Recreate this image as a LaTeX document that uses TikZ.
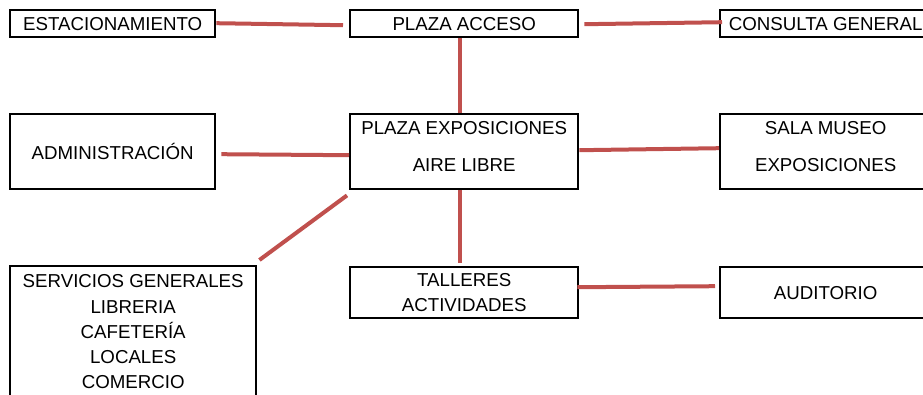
\documentclass[tikz,border=0pt]{standalone}
\usepackage{fontspec}
\setmainfont{Liberation Sans}
\definecolor{linkred}{HTML}{C0504D}
\begin{document}
\begin{tikzpicture}[x=1pt,y=-1pt,
  box/.style={draw=black, line width=2.4pt, rectangle, inner sep=0pt,
    anchor=north west, align=center,
    font=\fontsize{18.7pt}{25.3pt}\selectfont},
  link/.style={draw=linkred, line width=4pt}]
\useasboundingbox (0,0) rectangle (923,394);
\node[box, minimum width=205pt, minimum height=27pt] (estac) at (9,9) {ESTACIONAMIENTO};
\node[box, minimum width=228pt, minimum height=27pt] (acceso) at (349,9) {PLAZA ACCESO};
\node[box, minimum width=211pt, minimum height=27pt] (consulta) at (719,9) {CONSULTA GENERAL};
\node[box, minimum width=205pt, minimum height=75pt] (admin) at (9,113) {ADMINISTRACIÓN};
\node[box, minimum width=228pt, minimum height=75pt, text depth=10pt,
  font=\fontsize{18.7pt}{37pt}\selectfont] (plaza) at (349,113) {PLAZA EXPOSICIONES\\AIRE LIBRE};
\node[box, minimum width=211pt, minimum height=75pt, text depth=10pt,
  font=\fontsize{18.7pt}{37pt}\selectfont] (sala) at (719,113) {SALA MUSEO\\EXPOSICIONES};
\node[box, minimum width=246pt, minimum height=131.5pt] (serv) at (9,265)
  {SERVICIOS GENERALES\\LIBRERIA\\CAFETERÍA\\LOCALES\\COMERCIO};
\node[box, minimum width=228pt, minimum height=51pt,
  font=\fontsize{18.7pt}{25pt}\selectfont] (talleres) at (349,266) {TALLERES\\ACTIVIDADES};
\node[box, minimum width=211pt, minimum height=51pt] (audit) at (719,266) {AUDITORIO};

\draw[link] ([yshift=0.5pt]estac.east) -- ([xshift=-6pt,yshift=-1.5pt]acceso.west);
\draw[link] ([xshift=5pt,yshift=-0.5pt]acceso.east) -- ([xshift=3pt,yshift=1.5pt]consulta.west);
\draw[link] ([xshift=-4pt]acceso.south) -- ([xshift=-4pt]plaza.north);
\draw[link] ([xshift=5pt,yshift=-2.5pt]admin.east) -- ([yshift=-3.5pt]plaza.west);
\draw[link] ([yshift=1.5pt]plaza.east) -- ([yshift=3.5pt]sala.west);
\draw[link] ([xshift=-4pt]plaza.south) -- ([xshift=-4pt,yshift=3pt]talleres.north);
\draw[link] ([xshift=-2pt,yshift=-5pt]plaza.south west) -- ([xshift=2pt,yshift=5pt]serv.north east);
\draw[link] ([xshift=-2pt,yshift=5.5pt]talleres.east) -- ([xshift=-4pt,yshift=6.5pt]audit.west);
\end{tikzpicture}
\end{document}
